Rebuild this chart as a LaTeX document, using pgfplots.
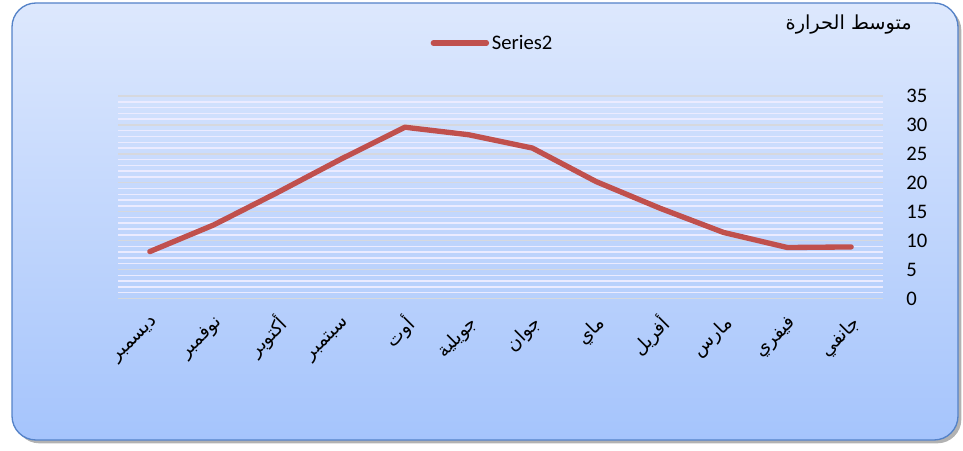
\documentclass[border=0pt]{standalone}
\usepackage{pgfplots}
\pgfplotsset{compat=1.18}
\usepackage{fontspec}
\setmainfont{Carlito}
\newfontfamily\arabicfont[Script=Arabic]{DejaVu Sans}
\TeXXeTstate=1
\definecolor{bgtop}{RGB}{221,232,253}
\definecolor{bgbot}{RGB}{165,196,252}
\definecolor{frame}{RGB}{84,130,200}
\definecolor{serred}{RGB}{192,80,77}
\definecolor{majgrid}{RGB}{214,216,222}
\newcommand{\ar}[1]{{\arabicfont\beginR #1\endR}}
\begin{document}
\begin{tikzpicture}
\useasboundingbox (0,0) rectangle (722.25pt,337.5pt);
% shadow
\fill[black!30, rounded corners=18pt] (11.5pt,5pt) rectangle (721pt,332.75pt);
\shade[top color=bgtop, bottom color=bgbot, rounded corners=18pt] (9pt,7.5pt) rectangle (718.5pt,335.25pt);
\draw[frame, line width=1pt, rounded corners=18pt] (9pt,7.5pt) rectangle (718.5pt,335.25pt);
\node[anchor=east, inner sep=0pt] at (684pt,319pt) {\fontsize{14.5}{16}\selectfont\ar{متوسط الحرارة}};
\begin{axis}[
  at={(88.5pt,113.7pt)}, anchor=south west,
  scale only axis, width=573.75pt, height=151.8pt,
  xmin=-0.5, xmax=11.5, ymin=0, ymax=35,
  axis line style={draw=none},
  major tick length=0pt, minor tick length=0pt,
  xtick={0,1,2,3,4,5,6,7,8,9,10,11},
  xticklabels={\ar{ديسمبر},\ar{نوفمبر},\ar{أكتوبر},\ar{سبتمبر},\ar{أوت},\ar{جويلية},\ar{جوان},\ar{ماي},\ar{أفريل},\ar{مارس},\ar{فيفري},\ar{جانفي}},
  xticklabel style={rotate=45, anchor=east, font=\fontsize{14}{16}\selectfont, xshift=-5pt, yshift=-15pt},
  ytick={0,5,...,35},
  minor y tick num=4,
  yticklabel pos=right,
  yticklabel style={anchor=west, xshift=14pt, font=\fontsize{15.5}{17}\selectfont},
  /pgf/number format/assume math mode=true,
  ymajorgrids, yminorgrids,
  major grid style={majgrid, line width=1.1pt},
  minor grid style={white!92!blue, line width=1.1pt},
  legend style={at={(0.49,1.262)}, anchor=center, draw=none, fill=none, font=\fontsize{15.5}{17}\selectfont, inner sep=0pt},
  legend image code/.code={\draw[serred, line width=3.8pt, line cap=round] (0pt,0pt) -- (40pt,0pt);},
]
\addplot[serred, line width=4pt, line cap=round, line join=round] coordinates {
(0,8.1) (1,12.7) (2,18.3) (3,24.1) (4,29.6) (5,28.3) (6,26.0) (7,20.2) (8,15.6) (9,11.4) (10,8.8) (11,8.9)};
\addlegendentry{Series2}
\end{axis}
\end{tikzpicture}
\end{document}
